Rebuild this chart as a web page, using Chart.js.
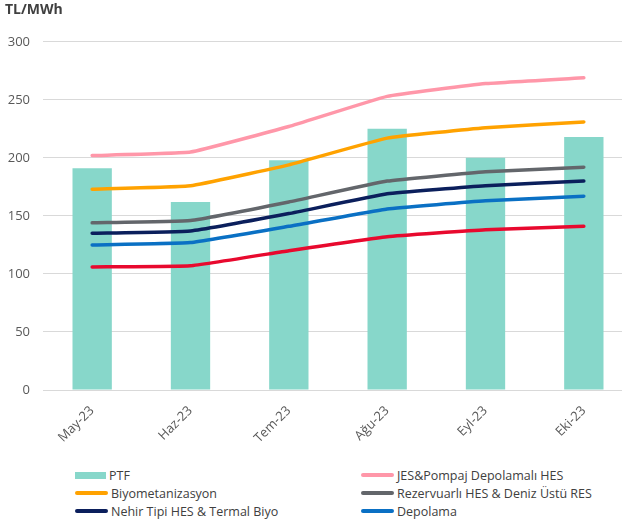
<!DOCTYPE html>
<html>
<head>
<meta charset="utf-8">
<script src="https://cdn.jsdelivr.net/npm/chart.js@4"></script>
<style>
  html, body { margin: 0; padding: 0; background: #fff; overflow: hidden; }
  #wrap { position: relative; width: 622px; height: 524px; overflow: hidden; }
  #box { position: absolute; left: 0; top: 0; width: 633px; height: 455px; }
  #legend { position: absolute; left: 0; top: 0; font-family: "Open Sans", sans-serif; font-size: 12.5px; color: #404040; }
  .item { position: absolute; display: flex; align-items: center; white-space: nowrap; height: 18px; }
  .sw { display: inline-block; margin-right: 3px; }
</style>
</head>
<body>
<div id="wrap">
  <div id="box"><canvas id="chart"></canvas></div>
  <div id="legend"></div>
</div>
<script>
const months = ['May-23', 'Haz-23', 'Tem-23', 'Ağu-23', 'Eyl-23', 'Eki-23'];
const ptf = [191, 162, 198, 225, 200, 218];
const jesPompaj = [202, 205, 227, 253, 264, 269];
const biyometan = [173, 176, 194, 217, 226, 231];
const rezervuarli = [144, 146, 162, 180, 188, 192];
const nehirTipi = [135, 137, 152, 169, 176, 180];
const depolama = [125, 127, 141, 156, 163, 167];
const kirmizi = [106, 107, 120, 132, 138, 141];
const yTicks = [0, 50, 100, 150, 200, 250, 300];

const FONT = '"Open Sans", sans-serif';

function line(label, data, color) {
    return {
        type: 'line', label, data,
        borderColor: color, backgroundColor: color,
        borderWidth: 3.5, pointRadius: 0, tension: 0.1,
        borderCapStyle: 'round', order: 0
    };
}

const datasets = [
    { type: 'bar', label: 'PTF', data: ptf, backgroundColor: '#87d7ca',
      barPercentage: 0.4, categoryPercentage: 1, order: 10 },
    line('JES&Pompaj Depolamalı HES', jesPompaj, '#ff97a9'),
    line('Biyometanizasyon', biyometan, '#ffa200'),
    line('Rezervuarlı HES & Deniz Üstü RES', rezervuarli, '#63666b'),
    line('Nehir Tipi HES & Termal Biyo', nehirTipi, '#0b1f5c'),
    line('Depolama', depolama, '#0a70c4'),
    line('', kirmizi, '#e8092e')
];

const ctx = document.getElementById('chart').getContext('2d');
const chart = new Chart(ctx, {
    data: { labels: months, datasets },
    options: {
        responsive: true,
        maintainAspectRatio: false,
        animation: false,
        layout: { padding: { top: 2, left: 5, right: 0, bottom: 0 } },
        plugins: {
            legend: { display: false },
            tooltip: { enabled: false },
            title: {
                display: true, text: 'TL/MWh', align: 'start', color: '#404040',
                font: { family: FONT, size: 14, weight: 'bold', lineHeight: 1.2 },
                padding: { top: 0, bottom: 23 }
            }
        },
        scales: {
            x: {
                grid: { display: false },
                border: { display: false },
                ticks: { color: '#595959', font: { family: FONT, size: 13 }, minRotation: 45, maxRotation: 45, padding: 5 },
                afterFit: s => { s.height = 65; }
            },
            y: {
                min: 0, max: 300,
                afterBuildTicks: s => { s.ticks = yTicks.map(v => ({ value: v })); },
                grid: { color: '#d9d9d9', drawTicks: false },
                border: { display: false },
                ticks: { color: '#595959', font: { family: FONT, size: 13 }, padding: 13 },
                afterFit: s => { s.width = 38; }
            }
        }
    }
});

// legend in two columns, like the source
const legendPos = [[75, 475], [361, 475], [75, 493], [361, 493], [75, 511], [361, 511]];
const legendEl = document.getElementById('legend');
chart.data.datasets.filter(d => d.label).forEach((d, i) => {
    const [x, y] = legendPos[i];
    const item = document.createElement('div');
    item.className = 'item';
    item.style.left = x + 'px';
    item.style.top = (y - 9) + 'px';
    const sw = document.createElement('span');
    sw.className = 'sw';
    if (d.type === 'bar') {
        sw.style.cssText += 'width:31px;height:7px;background:' + d.backgroundColor;
    } else {
        sw.style.cssText += 'width:33px;height:3.5px;border-radius:2px;background:' + d.borderColor;
    }
    item.appendChild(sw);
    item.appendChild(document.createTextNode(d.label));
    legendEl.appendChild(item);
});
</script>
</body>
</html>
